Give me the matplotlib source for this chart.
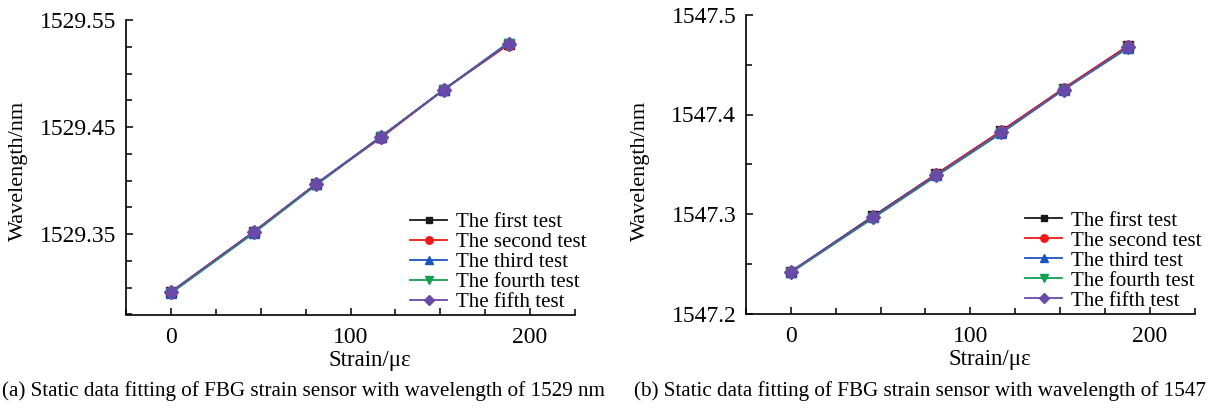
import matplotlib
matplotlib.use("Agg")
import matplotlib.pyplot as plt
from matplotlib.ticker import MultipleLocator, FixedLocator, FuncFormatter

plt.rcParams['font.family'] = ['Liberation Serif', 'DejaVu Serif']

# strain points (same for every test)
strain = [0, 46, 81, 117, 152, 188]

labels = ['The first test', 'The second test', 'The third test',
          'The fourth test', 'The fifth test']

# (a) FBG at 1529 nm
wl_1529 = [
    [1529.296, 1529.352, 1529.397, 1529.441, 1529.485, 1529.528],
    [1529.296, 1529.352, 1529.397, 1529.440, 1529.485, 1529.527],
    [1529.295, 1529.351, 1529.397, 1529.441, 1529.485, 1529.529],
    [1529.295, 1529.351, 1529.396, 1529.441, 1529.485, 1529.528],
    [1529.296, 1529.352, 1529.397, 1529.441, 1529.485, 1529.528],
]
yticks_1529 = [1529.35, 1529.45, 1529.55]

# (b) FBG at 1547 nm
wl_1547 = [
    [1547.242, 1547.298, 1547.340, 1547.383, 1547.426, 1547.469],
    [1547.242, 1547.297, 1547.340, 1547.383, 1547.426, 1547.469],
    [1547.242, 1547.297, 1547.339, 1547.381, 1547.425, 1547.467],
    [1547.241, 1547.296, 1547.338, 1547.381, 1547.425, 1547.467],
    [1547.242, 1547.297, 1547.339, 1547.382, 1547.425, 1547.468],
]
yticks_1547 = [1547.2, 1547.3, 1547.4, 1547.5]

colors = ['#1a1a1a', '#f01818', '#1a55c0', '#10a050', '#6a4aa8']
markers = ['s', 'o', '^', 'v', 'D']
msizes = [6.5, 7.5, 7.5, 7.5, 7]

W, H = 1212, 413
fig = plt.figure(figsize=(W / 100, H / 100), dpi=100)


def px_axes(x0, y0, x1, y1):
    # pixel box (left, top, right, bottom) -> figure axes
    return fig.add_axes([x0 / W, 1 - y1 / H, (x1 - x0) / W, (y1 - y0) / H])


def draw_panel(ax, data, ylim, yticks, yminor, yfmt, leg_anchor, xlab_pos, ylab_pos):
    for i in range(len(data)):
        ax.plot(strain, data[i], color=colors[i], marker=markers[i],
                markersize=msizes[i], lw=1.3, label=labels[i])
    ax.set_xlim(-25, 225)
    ax.set_ylim(*ylim)
    for s in ['top', 'right']:
        ax.spines[s].set_visible(False)
    for s in ['left', 'bottom']:
        ax.spines[s].set_linewidth(1.2)
    ax.xaxis.set_major_locator(MultipleLocator(50))
    ax.xaxis.set_minor_locator(MultipleLocator(25))
    ax.xaxis.set_major_formatter(FuncFormatter(
        lambda v, p: f"{v:.0f}" if abs(v % 100) < 1e-6 else ""))
    ax.yaxis.set_major_locator(FixedLocator(yticks))
    ax.yaxis.set_minor_locator(MultipleLocator(yminor))
    ax.yaxis.set_major_formatter(FuncFormatter(lambda v, p: yfmt.format(v)))
    ax.tick_params(which='both', direction='in', labelsize=17, width=1.1)
    ax.tick_params(which='major', length=5)
    ax.tick_params(which='minor', length=4)
    ax.tick_params(axis='x', pad=9)
    ax.tick_params(axis='y', pad=7)
    ax.set_xlabel('Strain/με', fontsize=16.5)
    ax.set_ylabel('Wavelength/nm', fontsize=16)
    ax.xaxis.set_label_coords(*xlab_pos)
    ax.yaxis.set_label_coords(*ylab_pos)
    ax.legend(loc='center left', bbox_to_anchor=leg_anchor, frameon=False,
              fontsize=15, borderpad=0, borderaxespad=0, labelspacing=0.02,
              handlelength=1.78, handletextpad=0.42, markerscale=0.72)


ax1 = px_axes(126, 20, 575, 314.5)
draw_panel(ax1, wl_1529, (1529.275, 1529.55), yticks_1529, 0.025, "{:.2f}",
           (0.6325, 0.178), (0.543, -0.12), (-0.219, 0.488))

ax2 = px_axes(746, 15, 1194.5, 313.5)
draw_panel(ax2, wl_1547, (1547.2, 1547.5), yticks_1547, 0.05, "{:.1f}",
           (0.622, 0.176), (0.543, -0.12), (-0.214, 0.478))

caption = 'Static data fitting of FBG strain sensor with wavelength of'
fig.text(2 / W, 1 - 396 / H, f'(a) {caption} 1529 nm',
         fontsize=15.2, ha='left', va='baseline')
# the right caption runs into the page edge after "1547" in the source
fig.text(634 / W, 1 - 396 / H, f'(b) {caption} 1547',
         fontsize=15.2, ha='left', va='baseline')

fig.savefig('out.png', dpi=100)
